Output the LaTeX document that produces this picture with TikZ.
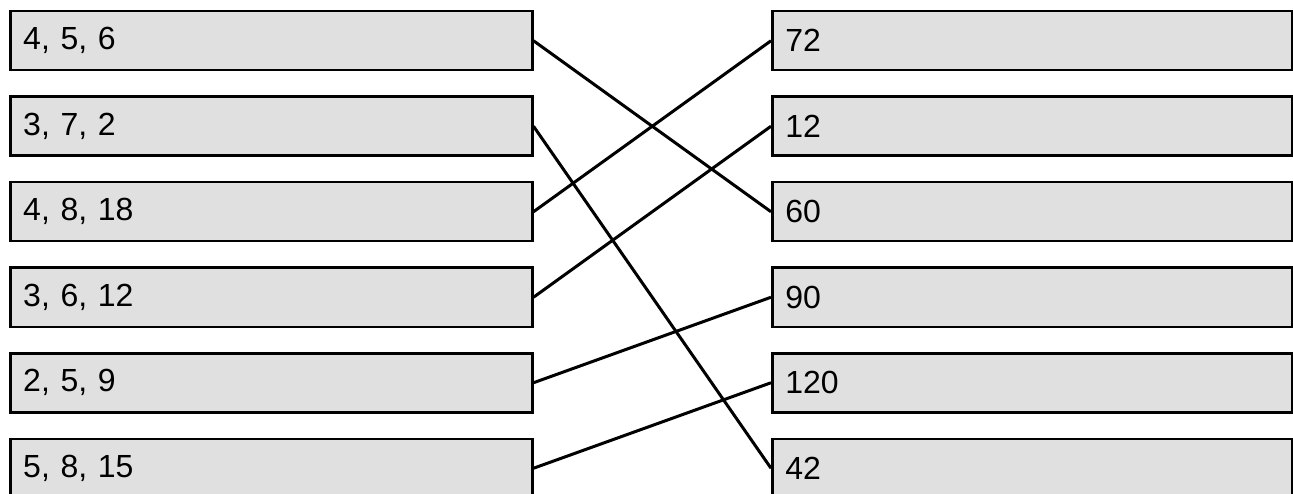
\documentclass[tikz,border=0pt]{standalone}
\usepackage{fontspec}
\setmainfont{Liberation Sans}
\definecolor{boxfill}{RGB}{224,224,224}
\begin{document}
\begin{tikzpicture}[x=1pt,y=-1pt,
  cell/.style={draw=black, line width=2.5pt, fill=boxfill, rectangle,
    minimum width=522pt, minimum height=59pt, anchor=north west,
    inner xsep=13pt, inner ysep=0pt, text width=496pt, align=left,
    font=\fontsize{32}{38}\selectfont},
  link/.style={draw=black, line width=3pt}]
\useasboundingbox (0,0) rectangle (1293,494);
\clip (0,0) rectangle (1293,494);
\node[cell] (l1) at (9,10) {4, 5, 6};
\node[cell] (l2) at (9,95.5) {3, 7, 2};
\node[cell] (l3) at (9,181) {4, 8, 18};
\node[cell] (l4) at (9,266.5) {3, 6, 12};
\node[cell] (l5) at (9,352) {2, 5, 9};
\node[cell] (l6) at (9,437.5) {5, 8, 15};
\node[cell, minimum width=520pt, text width=494pt] (r1) at (771,10) {72};
\node[cell, minimum width=520pt, text width=494pt] (r2) at (771,95.5) {12};
\node[cell, minimum width=520pt, text width=494pt] (r3) at (771,181) {60};
\node[cell, minimum width=520pt, text width=494pt] (r4) at (771,266.5) {90};
\node[cell, minimum width=520pt, text width=494pt] (r5) at (771,352) {120};
\node[cell, minimum width=520pt, text width=494pt] (r6) at (771,437.5) {42};
\draw[link] (l1.east) -- (r3.west);
\draw[link] (l2.east) -- (r6.west);
\draw[link] (l3.east) -- (r1.west);
\draw[link] (l4.east) -- (r2.west);
\draw[link] (l5.east) -- (r4.west);
\draw[link] (l6.east) -- (r5.west);
\end{tikzpicture}
\end{document}
